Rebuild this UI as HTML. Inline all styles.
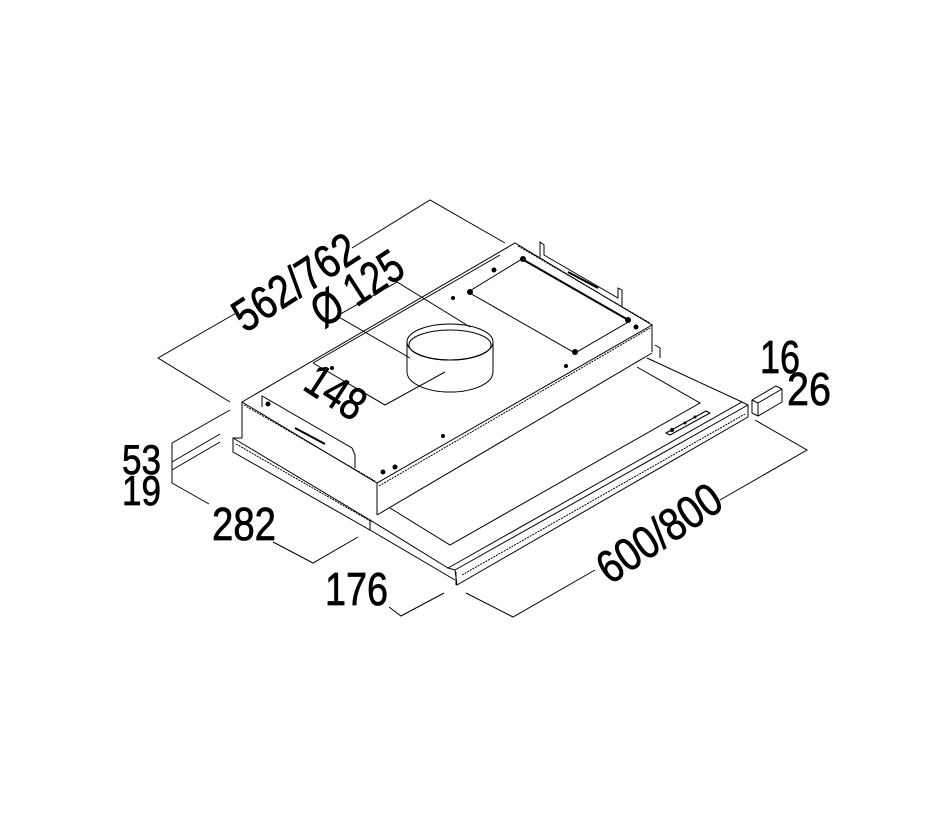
<!DOCTYPE html>
<html><head><meta charset="utf-8"><style>
html,body{margin:0;padding:0;background:#fff}
svg{display:block}
text{font-family:"Liberation Sans",sans-serif;font-size:46px;fill:#000;stroke:#000;stroke-width:0.7}
</style></head><body>
<svg width="931" height="813" viewBox="0 0 931 813" xmlns="http://www.w3.org/2000/svg">
<g fill="none" stroke="#000" stroke-width="1">
<polyline points="230,402 158,358 238,312"/>
<polyline points="352,248 430,200 505,243"/>
<polyline points="470,327 397,282 337,316 410,358"/>
<polyline points="313,363 385,405 445,372"/>
<line x1="313" y1="363" x2="500" y2="255"/>
<polyline points="230,410 172,443 172,483 209,504"/>
<line x1="172" y1="462" x2="220" y2="434"/>
<line x1="172" y1="470" x2="220" y2="442"/>
<polyline points="273,542 313,563 358,537"/>
<polyline points="389,607 401,616 444,593"/>
<polyline points="466,593 513,617 595,570"/>
<polyline points="720,500 807,450 755,420"/>
<polygon points="752,400 776,386 782,389 782,402 758,416 752,413"/>
<line x1="752" y1="400" x2="758" y2="403"/><line x1="758" y1="403" x2="782" y2="389"/><line x1="758" y1="403" x2="758" y2="416"/>

<polygon points="242,402 515,243 652,325 377,483"/>
<line x1="242" y1="402" x2="242" y2="438"/>
<line x1="377" y1="483" x2="377" y2="515"/>
<line x1="652" y1="325" x2="652" y2="352"/>
<line x1="377" y1="515" x2="652" y2="353"/>
<line x1="379" y1="486" x2="650" y2="328" stroke-dasharray="2 1"/>
<line x1="244" y1="405" x2="375" y2="481" stroke-dasharray="2 1"/>
<line x1="518" y1="246" x2="650" y2="323" stroke-dasharray="2 1"/>
<polyline points="262,407 262,396 352,448 355,455 355,468"/>
<line x1="295" y1="428" x2="325" y2="444" stroke-width="2"/>
<polyline points="540,257 540,242 544,245 544,255 618,298 618,288 622,290 622,306"/>
<line x1="568" y1="272" x2="598" y2="288" stroke-width="2"/>
<polygon points="468,292 522,259 630,321 575,353"/>
<line x1="522" y1="259" x2="630" y2="321" stroke-width="2"/>
<ellipse cx="450" cy="342" rx="43" ry="18"/>
<ellipse cx="450" cy="345" rx="41" ry="15"/>
<line x1="407" y1="342" x2="407" y2="372"/>
<line x1="493" y1="342" x2="493" y2="372"/>
<path d="M407,372 A43,20 0 0 0 493,372"/>
<polyline points="242,438 233,438 233,452 370,530 370,520 233,438"/>
<line x1="236" y1="444" x2="372" y2="522" stroke-dasharray="2 1"/>
<line x1="370" y1="520" x2="448" y2="568"/>
<line x1="370" y1="530" x2="455" y2="580"/>
<polyline points="390,508 450,545 700,403 637,367"/>
<line x1="647" y1="358" x2="742" y2="402"/>
<line x1="655" y1="345" x2="660" y2="348"/>
<line x1="660" y1="348" x2="660" y2="358"/>
<polygon points="448,568 742,402 748,405 748,417 457,585 455,570"/>
<line x1="455" y1="570" x2="748" y2="405"/>
<line x1="456" y1="572" x2="456" y2="585"/>
<line x1="462" y1="575" x2="745" y2="414" stroke-dasharray="2 1"/>
<polygon points="666,433 706,411 710,413 670,435"/>
</g>
<g fill="#000">
<circle cx="453" cy="298" r="2"/><circle cx="443" cy="436" r="2"/><circle cx="566" cy="366" r="2"/><circle cx="332" cy="368" r="2"/>
<circle cx="470" cy="292" r="3"/><circle cx="523" cy="259" r="3"/><circle cx="628" cy="320" r="3"/><circle cx="575" cy="352" r="3"/>
<circle cx="672" cy="430" r="2"/><circle cx="685" cy="423" r="1.5"/><circle cx="695" cy="417" r="1.5"/>
<circle cx="395" cy="467" r="2.5"/><circle cx="383" cy="472" r="2.5"/><circle cx="268" cy="404" r="2.5"/>
<circle cx="494" cy="270" r="2.5"/><circle cx="636" cy="327" r="2.5"/>
</g>
<text x="122" y="474" style="font-size:42px" textLength="39" lengthAdjust="spacingAndGlyphs">53</text>
<text x="122" y="505" style="font-size:42px" textLength="39" lengthAdjust="spacingAndGlyphs">19</text>
<text x="212" y="540" textLength="64" lengthAdjust="spacingAndGlyphs">282</text>
<text x="325" y="605" textLength="63" lengthAdjust="spacingAndGlyphs">176</text>
<text x="760" y="373" textLength="40" lengthAdjust="spacingAndGlyphs">16</text>
<text x="787" y="405" textLength="44" lengthAdjust="spacingAndGlyphs">26</text>
<text transform="translate(295,282) rotate(-33)" text-anchor="middle" y="16" textLength="140" lengthAdjust="spacingAndGlyphs">562/762</text>
<text transform="translate(357,288) rotate(-33)" text-anchor="middle" y="16" textLength="100" lengthAdjust="spacingAndGlyphs">Ø 125</text>
<text transform="translate(336,392) rotate(33)" text-anchor="middle" y="16" textLength="62" lengthAdjust="spacingAndGlyphs">148</text>
<text transform="translate(659,533) rotate(-34)" text-anchor="middle" y="16" textLength="140" lengthAdjust="spacingAndGlyphs">600/800</text>
</svg>
</body></html>
